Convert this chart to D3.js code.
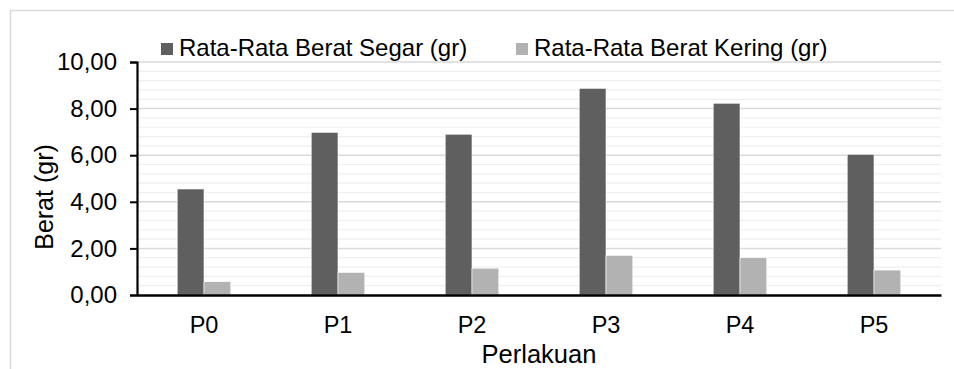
<!DOCTYPE html>
<html>
<head>
<meta charset="utf-8">
<script src="https://cdn.jsdelivr.net/npm/d3@7"></script>
<style>
  html, body { margin: 0; padding: 0; background: #fff; }
  svg text { font-family: "Liberation Sans", Arial, sans-serif; fill: #000; }
</style>
</head>
<body>
<svg id="chart" width="954" height="369"></svg>
<script>
const categories = ["P0", "P1", "P2", "P3", "P4", "P5"];
const seriesNames = ["Rata-Rata Berat Segar (gr)", "Rata-Rata Berat Kering (gr)"];
const beratSegar = [4.55, 6.98, 6.90, 8.87, 8.23, 6.04];
const beratKering = [0.57, 0.97, 1.15, 1.70, 1.60, 1.07];
const yTicks = [0, 2, 4, 6, 8, 10];
const colors = ["#5f5f5f", "#b2b2b2"];

(function () {
const svg = d3.select("#chart");
const pL = 137, pR = 941, pT = 62, pB = 295;
const FF = "Liberation Sans, Arial, sans-serif";

// outer border
svg.append("rect").attr("x", 10.5).attr("y", 10.5).attr("width", 960).attr("height", 400)
  .attr("fill", "none").attr("stroke", "#d9d9d9").attr("stroke-width", 1.5);

const y = d3.scaleLinear().domain([0, 10]).range([pB, pT]);
const x0 = d3.scaleBand().domain(categories).range([pL, pR]).paddingInner(0.6).paddingOuter(0.3);
const x1 = d3.scaleBand().domain([0, 1]).range([0, x0.bandwidth()]);

// minor gridlines
const minor = d3.range(0, 10.001, 0.4).filter(v => Math.abs(v / 2 - Math.round(v / 2)) > 1e-6);
svg.append("g").selectAll("line").data(minor).join("line")
  .attr("x1", pL).attr("x2", pR)
  .attr("y1", d => y(d)).attr("y2", d => y(d))
  .attr("stroke", "#efefef").attr("stroke-width", 1.2);
// major gridlines
svg.append("g").selectAll("line").data(yTicks.slice(1)).join("line")
  .attr("x1", pL).attr("x2", pR)
  .attr("y1", d => y(d)).attr("y2", d => y(d))
  .attr("stroke", "#d9d9d9").attr("stroke-width", 1.5);

// bars
const data = categories.map((c, i) => ({ c, vals: [beratSegar[i], beratKering[i]] }));
const groups = svg.append("g").selectAll("g").data(data).join("g")
  .attr("transform", d => `translate(${x0(d.c)},0)`);
groups.selectAll("rect").data(d => d.vals.map((v, k) => ({ v, k }))).join("rect")
  .attr("x", d => x1(d.k)).attr("width", x1.bandwidth())
  .attr("y", d => y(d.v)).attr("height", d => y(0) - y(d.v))
  .attr("fill", d => colors[d.k])
  .attr("stroke", "#ffffff").attr("stroke-width", 0.6);

// y axis
const yAxis = svg.append("g").attr("transform", `translate(${pL},0)`)
  .call(d3.axisLeft(y).tickValues(yTicks).tickSize(7).tickPadding(13)
    .tickFormat(d => d3.format(".2f")(d).replace(".", ",")));
yAxis.select(".domain").attr("stroke", "#000").attr("stroke-width", 2.2);
yAxis.selectAll(".tick line").attr("stroke", "#000").attr("stroke-width", 2);
yAxis.selectAll("text").attr("font-size", 24).attr("font-family", FF);

// x axis
const xAxis = svg.append("g").attr("transform", `translate(0,${pB})`)
  .call(d3.axisBottom(x0).tickSize(0).tickPadding(21));
xAxis.select(".domain").attr("stroke", "#000").attr("stroke-width", 2.5);
xAxis.selectAll("text").attr("font-size", 23.5).attr("font-family", FF);

// axis titles
svg.append("text").attr("transform", "translate(53,197) rotate(-90)")
  .attr("text-anchor", "middle").attr("font-size", 25).text("Berat (gr)");
svg.append("text").attr("x", (pL + pR) / 2).attr("y", 362.5)
  .attr("text-anchor", "middle").attr("font-size", 25.5).text("Perlakuan");

// legend
const legX = [161, 516];
seriesNames.forEach((name, k) => {
  svg.append("rect").attr("x", legX[k]).attr("y", 43).attr("width", 12).attr("height", 12).attr("fill", colors[k]);
  svg.append("text").attr("x", legX[k] + 18).attr("y", 56).attr("font-size", 24).text(name);
});
})();
</script>
</body>
</html>
